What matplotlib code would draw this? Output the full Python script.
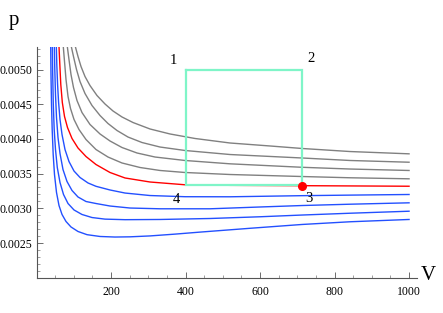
import matplotlib
matplotlib.use("Agg")
import matplotlib.pyplot as plt
from matplotlib.ticker import MultipleLocator, FormatStrFormatter

plt.rcParams['font.family'] = ['Liberation Serif', 'DejaVu Serif']

# isotherms (V, p), top gray -> bottom blue
g1_v = [104.2, 111.4, 119.5, 130.2, 143.6, 162.4, 183.9, 205.4, 229.5, 259.1, 304.7, 358.4, 425.5, 519.5,
        626.9, 712.8, 841.6, 1000]
g1_p = [0.005331, 0.005187, 0.005043, 0.004899, 0.004769, 0.004625, 0.004503, 0.004402, 0.004316, 0.004236,
        0.004143, 0.004071, 0.004006, 0.003941, 0.003898, 0.003862, 0.003818, 0.003785]

g2_v = [93.4, 99.3, 107.4, 116.8, 130.2, 149.0, 170.5, 191.9, 216.1, 245.6, 283.2, 331.6, 398.7, 519.5,
        712.8, 841.6, 1000]
g2_p = [0.005331, 0.005187, 0.005000, 0.004827, 0.004654, 0.004481, 0.004337, 0.004222, 0.004121, 0.004027,
        0.003948, 0.003883, 0.003833, 0.003775, 0.003725, 0.003689, 0.003664]

g3_v = [82.7, 87.2, 92.6, 99.3, 108.7, 122.1, 143.6, 170.5, 197.3, 229.5, 269.8, 318.1, 398.7, 519.5,
        712.8, 841.6, 1000]
g3_p = [0.005331, 0.005144, 0.004928, 0.004741, 0.004553, 0.004380, 0.004208, 0.004071, 0.003970, 0.003876,
        0.003797, 0.003739, 0.003689, 0.003641, 0.003591, 0.003566, 0.003545]

g4_v = [71.9, 75.2, 79.2, 84.6, 91.3, 100.7, 114.1, 132.9, 159.7, 191.9, 229.5, 277.9, 331.6, 398.7, 519.5,
        712.8, 841.6, 1000]
g4_p = [0.005331, 0.005115, 0.004856, 0.004611, 0.004438, 0.004280, 0.004135, 0.003991, 0.003847, 0.003739,
        0.003653, 0.003588, 0.003545, 0.003516, 0.003487, 0.003458, 0.003440, 0.003425]

red_v = [60.4, 62.6, 65.2, 69.3, 75.2, 83.2, 95.3, 111.4, 132.9, 159.7, 197.3, 237.6, 304.7, 398.7, 519.5,
         712.8, 1000]
red_p = [0.005331, 0.005072, 0.004784, 0.004525, 0.004323, 0.004164, 0.004006, 0.003869, 0.003746, 0.003631,
         0.003516, 0.003437, 0.003379, 0.003339, 0.003331, 0.003326, 0.003318]

b1_v = [53.2, 54.5, 56.6, 59.3, 63.1, 68.5, 76.5, 87.2, 100.7, 116.8, 138.3, 159.7, 197.3, 237.6, 304.7,
        398.7, 519.5, 712.8, 841.6, 1000]
b1_p = [0.005331, 0.005072, 0.004784, 0.004525, 0.004280, 0.004063, 0.003847, 0.003674, 0.003537, 0.003444,
        0.003365, 0.003317, 0.003264, 0.003220, 0.003184, 0.003167, 0.003166, 0.003182, 0.003190, 0.003199]

b2_v = [47.8, 49.1, 51.0, 53.7, 57.7, 63.1, 71.1, 81.9, 95.3, 111.4, 132.9, 159.7, 197.3, 251.0, 331.6,
        465.8, 600.0, 712.8, 841.6, 1000]
b2_p = [0.005331, 0.005000, 0.004640, 0.004308, 0.004020, 0.003790, 0.003559, 0.003386, 0.003257, 0.003163,
        0.003098, 0.003069, 0.003033, 0.003004, 0.002993, 0.002993, 0.003019, 0.003040, 0.003059, 0.003079]

b3_v = [42.4, 43.5, 45.1, 47.5, 51.0, 55.8, 63.1, 72.5, 84.6, 100.7, 122.1, 149.0, 183.9, 237.6, 331.6,
        465.8, 600.0, 712.8, 841.6, 1000]
b3_p = [0.005331, 0.004928, 0.004496, 0.004135, 0.003847, 0.003588, 0.003372, 0.003199, 0.003069, 0.002976,
        0.002911, 0.002867, 0.002844, 0.002836, 0.002839, 0.002853, 0.002878, 0.002903, 0.002929, 0.002958]

b4_v = [38.1, 38.9, 40.3, 42.1, 44.8, 48.3, 53.7, 60.4, 68.5, 79.2, 92.6, 111.4, 135.6, 170.5, 210.7,
        251.0, 304.7, 371.8, 438.9, 573.2, 712.8, 841.6, 1000]
b4_p = [0.005331, 0.004928, 0.004496, 0.004135, 0.003775, 0.003487, 0.003228, 0.003040, 0.002911, 0.002810,
        0.002731, 0.002666, 0.002620, 0.002594, 0.002586, 0.002589, 0.002602, 0.002628, 0.002657, 0.002712,
        0.002767, 0.002806, 0.002839]

# cycle 1-2-3-4
cycle_v = [400, 712, 712, 400, 400]
cycle_p = [0.0050, 0.0050, 0.00333, 0.00333, 0.0050]
corner_names = ['1', '2', '3', '4']
state3_v, state3_p = 712, 0.003326

gray = '#808080'
blue = '#2350ff'

fig = plt.figure(figsize=(4.43, 3.13), dpi=100)
ax = fig.add_axes([36.5 / 443, 35.3 / 313, 380 / 443, 230.4 / 313])

for v, p in [(g1_v, g1_p), (g2_v, g2_p), (g3_v, g3_p), (g4_v, g4_p)]:
    ax.plot(v, p, color=gray, lw=1.0)
ax.plot(red_v, red_p, color='red', lw=1.0)
for v, p in [(b1_v, b1_p), (b2_v, b2_p), (b3_v, b3_p), (b4_v, b4_p)]:
    ax.plot(v, p, color=blue, lw=1.0)

ax.plot(cycle_v, cycle_p, color='#7ff5c8', lw=1.6, solid_joinstyle='miter')
ax.plot([state3_v], [state3_p], 'o', color='red', ms=5.5, zorder=5)

offsets = [(-8.8, 6.7), (7, 7.7), (5.3, -9.1), (-6.3, -9.8)]
for name, (dx, dy), v, p in zip(corner_names, offsets, cycle_v[:4], cycle_p[:4]):
    ax.annotate(name, (v, p), xytext=(dx, dy), textcoords='offset points',
                ha='center', va='center', fontsize=10.5)

ax.set_xlim(0, 1020)
ax.set_ylim(0.0020, 0.00532)
ax.xaxis.set_minor_locator(MultipleLocator(50))
ax.yaxis.set_minor_locator(MultipleLocator(0.0001))
ax.yaxis.set_major_formatter(FormatStrFormatter('%.4f'))
ax.set_yticks([0.0025, 0.0030, 0.0035, 0.0040, 0.0045, 0.0050])
ax.set_xticks([200, 400, 600, 800, 1000])

for s in ['top', 'right']:
    ax.spines[s].set_visible(False)
for s in ['left', 'bottom']:
    ax.spines[s].set_color('#555555')
    ax.spines[s].set_linewidth(0.8)

ax.tick_params(which='major', direction='in', length=4, width=0.6, color='#555555', labelsize=8.5)
ax.tick_params(which='minor', direction='in', length=2.2, width=0.5, color='#777777')
ax.tick_params(axis='x', pad=6)
ax.tick_params(axis='y', pad=3)

fig.text(14 / 443, 1 - 20 / 313, 'p', fontsize=15, ha='center', va='center')
fig.text(428 / 443, 1 - 276 / 313, 'V', fontsize=15, ha='center', va='center')

fig.savefig('out.png', dpi=100)
